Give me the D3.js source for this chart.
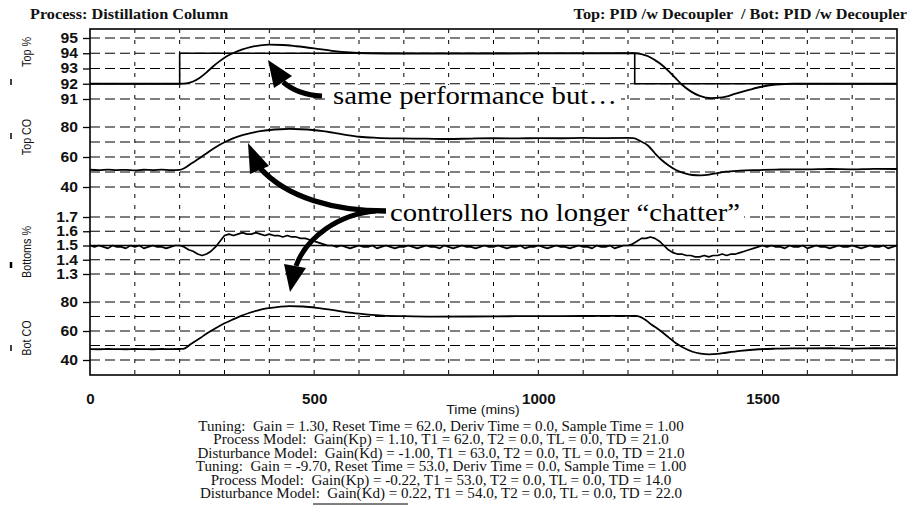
<!DOCTYPE html>
<html><head><meta charset="utf-8">
<script src="https://cdn.jsdelivr.net/npm/d3@7/dist/d3.min.js"></script>
<style>body{margin:0;background:#fff}svg{display:block}</style>
</head><body>
<svg id="c" width="919" height="510"></svg>
<script>
// ---------------- DATA ----------------
const timeDomain = [0, 1800];
const timeTickLabels = [0, 500, 1000, 1500];
const timeGrid = [100,200,300,400,500,600,700,800,900,1000,1100,1200,1300,1400,1500,1600,1700];

const topTicks = [91, 92, 93, 94, 95];
const topCOTicks = [40, 60, 80];
const topCOGrid = [40, 50, 60, 70, 80];
const botTicks = [1.3, 1.4, 1.5, 1.6, 1.7];
const botCOTicks = [40, 60, 80];
const botCOGrid = [40, 50, 60, 70, 80];

// Top % setpoint (step)
const topSPTime = [0, 200, 200, 1215, 1215, 1800];
const topSPVal  = [92, 92, 94, 94, 92, 92];
// Top % process variable
const topPVTime = [0,200,215,230,245,260,275,290,305,320,340,360,380,400,430,460,500,540,580,620,700,800,1000,1215,1230,1245,1260,1275,1290,1305,1320,1340,1360,1385,1410,1440,1470,1500,1530,1570,1800];
const topPVVal  = [92,92,92.03,92.15,92.4,92.75,93.15,93.5,93.8,94.02,94.25,94.42,94.52,94.56,94.54,94.46,94.32,94.16,94.05,94.0,93.97,93.97,93.99,94.0,93.95,93.8,93.55,93.25,92.85,92.4,91.95,91.5,91.2,91.05,91.1,91.35,91.6,91.82,91.95,92.0,92.0];

// Top controller output
const topCOTime = [0,20,40,60,80,100,120,140,160,180,200,210,225,245,265,282,300,319,340,356,380,401,425,445,470,497,520,542,570,601,640,690,750,800,850,900,950,1000,1050,1100,1150,1200,1212,1228,1245,1260,1275,1290,1307,1325,1343,1362,1381,1400,1418,1450,1492,1530,1566,1600,1650,1700,1750,1800];
const topCOVal  = [51.5,51.2,51.6,51.3,51.4,51.1,51.5,51.3,51.6,51.2,51.4,52.5,55.5,59.3,63.5,66.9,69.8,72.4,74.6,75.8,77.2,78.0,78.5,78.7,78.5,78.0,77.2,76.2,74.8,73.5,72.8,72.4,72.2,72.0,72.3,72.5,72.4,72.6,72.5,72.7,72.6,72.7,72.6,70.5,67.5,62.5,58.0,54.5,51.3,49.2,48.0,47.8,48.2,49.3,50.2,50.9,51.3,51.6,51.8,51.7,52.0,51.8,52.1,52.0];

// Bottoms % setpoint
const botSPTime = [0, 1800];
const botSPVal  = [1.5, 1.5];
// Bottoms % process variable, sampled every 10 min from t = 0
const botPVStep = 10;
const botPVVal = [
 1.50,1.49,1.50,1.49,1.48,1.50,1.49,1.49,1.48,1.50,1.49,1.50,1.48,1.49,1.50,1.49,1.49,1.48,1.49,1.50,1.50,
 1.49,1.47,1.46,1.44,1.43,1.44,1.46,1.49,1.53,1.57,
 1.58,1.57,1.58,1.59,1.58,1.58,1.59,1.58,1.57,1.58,
 1.57,1.57,1.56,1.57,1.56,1.56,1.55,1.55,1.54,1.53,
 1.52,1.51,1.50,1.50,1.49,1.50,1.49,1.48,1.49,1.50,
 1.49,1.49,1.50,1.48,1.49,1.50,1.49,1.48,1.49,1.49,
 1.50,1.49,1.48,1.49,1.50,1.49,1.49,1.48,1.50,1.49,
 1.48,1.49,1.50,1.49,1.49,1.48,1.49,1.50,1.49,1.49,
 1.50,1.49,1.48,1.49,1.49,1.50,1.48,1.49,1.49,1.50,
 1.49,1.48,1.49,1.50,1.49,1.49,1.48,1.49,1.50,1.49,
 1.49,1.48,1.50,1.49,1.49,1.50,1.48,1.49,1.50,1.50,
 1.51,1.53,1.55,1.55,1.56,1.55,1.53,1.50,1.47,1.45,
 1.44,1.44,1.43,1.43,1.42,1.42,1.43,1.42,1.43,1.43,
 1.44,1.43,1.44,1.44,1.45,1.46,1.47,1.48,1.49,1.50,
 1.49,1.50,1.49,1.49,1.48,1.50,1.49,1.49,1.50,1.48,
 1.49,1.50,1.49,1.49,1.48,1.49,1.50,1.49,1.49,1.50,
 1.49,1.48,1.49,1.50,1.49,1.49,1.50,1.48,1.49,1.50
];

// Bottom controller output
const botCOTime = [0,20,40,60,80,100,120,140,160,180,200,208,225,245,263,282,300,319,337,356,375,394,420,445,475,505,540,579,615,653,700,765,850,950,1050,1150,1218,1235,1252,1270,1290,1307,1325,1344,1362,1381,1400,1418,1450,1492,1530,1566,1600,1650,1700,1750,1800];
const botCOVal  = [47.5,47.4,47.6,47.5,47.4,47.6,47.5,47.4,47.6,47.5,47.6,47.7,51.0,55.0,58.8,62.3,65.3,68.0,70.4,72.6,74.3,75.6,76.6,77.2,76.9,76.0,74.5,72.6,71.5,70.6,70.2,69.9,70.0,70.2,70.3,70.4,70.4,68.5,64.5,60.7,55.8,51.5,48.3,45.7,44.4,43.9,44.2,45.0,46.3,47.4,47.8,48.0,48.0,48.1,47.9,48.1,48.0];

const panelTitles = ["Top %", "Top CO", "Bottoms %", "Bot CO"];
const titleLeft = "Process: Distillation Column";
const titleRight = "Top: PID /w Decoupler  / Bot: PID /w Decoupler";
const xAxisTitle = "Time (mins)";
const infoLines = [
 "Tuning:  Gain = 1.30, Reset Time = 62.0, Deriv Time = 0.0, Sample Time = 1.00",
 "Process Model:  Gain(Kp) = 1.10, T1 = 62.0, T2 = 0.0, TL = 0.0, TD = 21.0",
 "Disturbance Model:  Gain(Kd) = -1.00, T1 = 63.0, T2 = 0.0, TL = 0.0, TD = 21.0",
 "Tuning:  Gain = -9.70, Reset Time = 53.0, Deriv Time = 0.0, Sample Time = 1.00",
 "Process Model:  Gain(Kp) = -0.22, T1 = 53.0, T2 = 0.0, TL = 0.0, TD = 14.0",
 "Disturbance Model:  Gain(Kd) = 0.22, T1 = 54.0, T2 = 0.0, TL = 0.0, TD = 22.0"
];
const note1 = "same performance but\u2026";
const note2 = "controllers no longer \u201cchatter\u201d";

// ---------------- LAYOUT ----------------
const svg = d3.select("#c");
const L = 90, R = 897, T = 29, B = 375;
const SANS = "Liberation Sans, Arial, sans-serif";
const SERIF = "Liberation Serif, Times New Roman, serif";
const K = 1.16; // horizontal stretch of the scanned text
function stretch(sel, k){
  sel.each(function(){
    const n = this.getComputedTextLength();
    d3.select(this).attr("textLength", n*k).attr("lengthAdjust","spacingAndGlyphs");
  });
}
const x = d3.scaleLinear().domain(timeDomain).range([L, R]);

const panels = [
  {y:d3.scaleLinear().domain([91,95]).range([99,38]),     ticks:topTicks,   grid:topTicks,   fmt:d3.format("d"),   ty:52},
  {y:d3.scaleLinear().domain([40,80]).range([187,127]),   ticks:topCOTicks, grid:topCOGrid, fmt:d3.format("d"),   ty:137},
  {y:d3.scaleLinear().domain([1.3,1.7]).range([274,217]), ticks:botTicks,   grid:botTicks,   fmt:d3.format(".1f"), ty:252},
  {y:d3.scaleLinear().domain([40,80]).range([360,302]),   ticks:botCOTicks, grid:botCOGrid, fmt:d3.format("d"),   ty:338}
];
const markY = [82, 136, 265, 348];

svg.append("rect").attr("width",919).attr("height",510).attr("fill","#fff");

// vertical grid
svg.append("g").selectAll("line").data(timeGrid).join("line")
  .attr("x1",d=>x(d)).attr("x2",d=>x(d)).attr("y1",T).attr("y2",B)
  .attr("stroke","#000").attr("stroke-width",1).attr("stroke-dasharray","4,7");

panels.forEach((p,i)=>{
  const g = svg.append("g");
  g.selectAll("line.h").data(p.grid).join("line").attr("class","h")
    .attr("x1",L).attr("x2",R).attr("y1",d=>p.y(d)).attr("y2",d=>p.y(d))
    .attr("stroke","#000").attr("stroke-width",1.2).attr("stroke-dasharray","10,5");
  const ax = d3.axisLeft(p.y).tickValues(p.ticks).tickFormat(p.fmt).tickSize(7).tickPadding(5);
  const a = svg.append("g").attr("transform",`translate(${L},0)`).call(ax);
  a.select(".domain").remove();
  a.selectAll(".tick line").attr("stroke","#000").attr("stroke-width",1.3);
  a.selectAll(".tick text").attr("font-family",SANS)
    .attr("font-size",14).attr("font-weight","bold").attr("fill","#111").call(stretch, 1.12);
  svg.append("text").attr("transform",`translate(31,${p.ty}) rotate(-90)`)
    .attr("text-anchor","middle").attr("font-family",SANS)
    .attr("font-size",12.5).attr("fill","#111").text(panelTitles[i]).call(stretch, 0.86);
  svg.append("line").attr("x1",11).attr("x2",11).attr("y1",markY[i]-3).attr("y2",markY[i]+3)
    .attr("stroke","#000").attr("stroke-width", i===2?2.5:1.5);
});

// frame
svg.append("rect").attr("x",L).attr("y",T).attr("width",R-L).attr("height",B-T)
  .attr("fill","none").attr("stroke","#000").attr("stroke-width",1.6);

// x axis labels
const xa = d3.axisBottom(x).tickValues(timeTickLabels).tickFormat(d3.format("d")).tickSize(0).tickPadding(19);
const xg = svg.append("g").attr("transform",`translate(0,${B})`).call(xa);
xg.select(".domain").remove();
xg.selectAll(".tick text").attr("font-family",SANS)
  .attr("font-size",14).attr("font-weight","bold").attr("fill","#111").call(stretch, 1.08);
svg.append("text").attr("x",483).attr("y",414).attr("text-anchor","middle")
  .attr("font-family",SANS).attr("font-size",12.5).attr("fill","#111").text(xAxisTitle).call(stretch, 1.12);

// series
function drawLine(ts, vs, yS, width, curve){
  const pts = ts.map((t,i)=>[t, vs[i]]);
  svg.append("path").datum(pts)
    .attr("d", d3.line().x(d=>x(d[0])).y(d=>yS(d[1])).curve(curve||d3.curveLinear))
    .attr("fill","none").attr("stroke","#000").attr("stroke-width",width).attr("stroke-linejoin","round");
}
drawLine(topSPTime, topSPVal, panels[0].y, 1.6);
drawLine(topPVTime, topPVVal, panels[0].y, 1.8, d3.curveMonotoneX);
drawLine(topCOTime, topCOVal, panels[1].y, 1.8, d3.curveMonotoneX);
drawLine(botSPTime, botSPVal, panels[2].y, 1.4);
drawLine(botPVVal.map((v,i)=>i*botPVStep), botPVVal, panels[2].y, 1.7);
drawLine(botCOTime, botCOVal, panels[3].y, 1.8, d3.curveMonotoneX);

// titles
svg.append("text").attr("x",30).attr("y",19).attr("font-family",SERIF)
  .attr("font-size",14).attr("font-weight","bold").attr("fill","#111").text(titleLeft).call(stretch, K);
svg.append("text").attr("x",907).attr("y",19).attr("text-anchor","end")
  .attr("font-family",SERIF).style("white-space","pre")
  .attr("font-size",14).attr("font-weight","bold").attr("fill","#111").text(titleRight).call(stretch, K);

// info lines
svg.append("g").selectAll("text").data(infoLines).join("text")
  .attr("x",441).attr("y",(d,i)=>431+i*13.4).attr("text-anchor","middle")
  .style("white-space","pre").attr("font-family",SERIF)
  .attr("font-size",14).attr("fill","#111").text(d=>d).call(stretch, 1.075);
// underline on the last line
svg.append("line").attr("x1",313).attr("x2",408).attr("y1",504).attr("y2",504).attr("stroke","#000").attr("stroke-width",1);

// annotations
function note(txt, x0, base, w){
  svg.append("rect").attr("x",x0-6).attr("y",base-19).attr("width",w+10).attr("height",25).attr("fill","#fff");
  svg.append("text").attr("x",x0).attr("y",base).attr("font-family",SERIF)
    .attr("font-size",25).attr("fill","#000").attr("textLength",w).attr("lengthAdjust","spacingAndGlyphs").text(txt);
}
note(note1, 333, 104, 284);
note(note2, 390, 221, 350);

function arrow(shaft, tip, base1, base2, w){
  svg.append("path").attr("d",shaft).attr("fill","none").attr("stroke","#000").attr("stroke-width",w).attr("stroke-linecap","butt");
  svg.append("path").attr("d",`M${tip}L${base1}L${base2}Z`).attr("fill","#000");
}
arrow("M322,96 Q298,95 283,82", [268,60], [292,76], [274,88], 5);
arrow("M386,211 C335,211 287,198 260,168", [248,143], [269,166], [250,174], 5.5);
arrow("M376,211 C338,214 306,238 296,266", [290,292], [306,268], [284,264], 5);
</script>
</body></html>
